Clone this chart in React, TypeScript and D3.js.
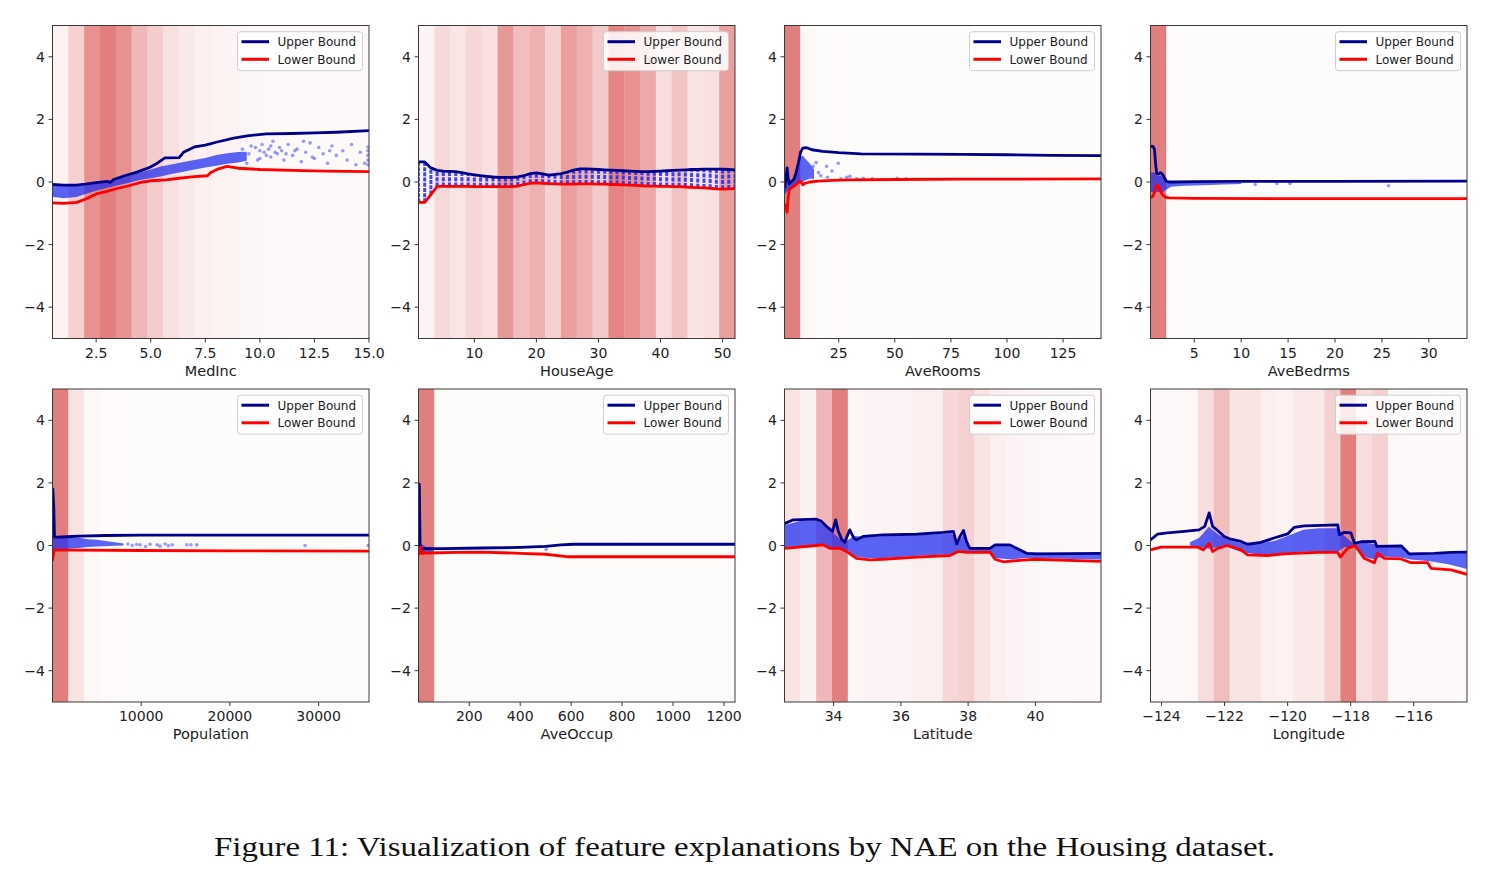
import React from "react";
import * as d3 from "d3";

type Pt = [number, number];
type Span = [number, number, number];

// ---- MedInc ----
const medIncDomain: [number, number] = [0.4999, 15.0001];
const medIncTicks = [2.5, 5, 7.5, 10, 12.5, 15];
const medIncBins = [0.08, 0.35, 0.85, 1.0, 0.85, 0.55, 0.38, 0.22, 0.15, 0.1, 0.08, 0.06, 0.05, 0.04, 0.03, 0.02, 0.02, 0.02, 0.02, 0.03];
const medIncUpper: Pt[] = [[0.5, -0.08], [1.0, -0.1], [1.6, -0.1], [2.0, -0.07], [2.5, -0.02], [3.0, 0.02], [3.15, -0.01], [3.3, 0.08], [3.8, 0.2], [4.3, 0.3], [4.9, 0.45], [5.3, 0.6], [5.65, 0.77], [6.3, 0.78], [6.5, 0.95], [7.0, 1.12], [7.5, 1.18], [8.0, 1.27], [8.8, 1.4], [9.5, 1.48], [10.3, 1.54], [11.5, 1.55], [12.5, 1.57], [13.5, 1.59], [15.0, 1.64]];
const medIncLower: Pt[] = [[0.5, -0.67], [1.0, -0.68], [1.6, -0.65], [2.0, -0.55], [2.5, -0.38], [3.0, -0.3], [3.5, -0.2], [4.0, -0.12], [4.5, -0.02], [5.0, 0.04], [5.7, 0.07], [6.3, 0.12], [7.0, 0.17], [7.6, 0.2], [7.75, 0.3], [8.1, 0.42], [8.5, 0.5], [9.0, 0.44], [10.0, 0.4], [11.5, 0.37], [13.0, 0.35], [15.0, 0.33]];
const medIncCloud: Span[] = [[0.5, -0.47, -0.05], [1.0, -0.52, -0.1], [1.6, -0.48, -0.12], [2.0, -0.38, -0.1], [2.5, -0.28, -0.05], [3.0, -0.18, 0.0], [3.5, -0.1, 0.12], [4.0, -0.02, 0.2], [4.5, 0.06, 0.3], [5.0, 0.12, 0.4], [5.5, 0.18, 0.5], [6.0, 0.26, 0.57], [6.5, 0.33, 0.64], [7.0, 0.4, 0.7], [7.5, 0.46, 0.77], [8.0, 0.52, 0.86], [8.5, 0.58, 0.92], [9.0, 0.62, 0.96], [9.4, 0.68, 0.97]];
const medIncDots: Pt[] = [[9.2, 1.05], [9.4, 0.6], [9.5, 0.9], [9.6, 1.15], [9.8, 1.1], [9.9, 0.7], [10.0, 0.75], [10.0, 1.0], [10.1, 1.2], [10.2, 0.95], [10.3, 0.85], [10.4, 1.05], [10.5, 0.8], [10.5, 1.15], [10.6, 1.3], [10.7, 0.95], [10.8, 0.9], [10.9, 1.1], [11.0, 1.0], [11.1, 0.7], [11.2, 0.9], [11.3, 1.2], [11.5, 0.85], [11.6, 1.0], [11.7, 1.05], [11.9, 0.65], [12.0, 1.3], [12.1, 0.95], [12.3, 1.25], [12.4, 0.8], [12.5, 0.75], [12.7, 1.1], [12.9, 0.9], [13.1, 0.6], [13.2, 1.0], [13.3, 1.15], [13.5, 0.85], [13.8, 1.0], [14.0, 0.7], [14.2, 1.2], [14.4, 0.55], [14.6, 0.95], [14.8, 0.6], [14.95, 0.55], [14.95, 0.7], [14.95, 0.85], [14.95, 1.0], [14.95, 1.12]];

// ---- HouseAge (one value per year of age, 1..52) ----
const houseAgeDomain: [number, number] = [1, 52];
const houseAgeTicks = [10, 20, 30, 40, 50];
const houseAgeBins = [0.06, 0.28, 0.18, 0.3, 0.22, 0.8, 0.5, 0.6, 0.35, 0.75, 0.6, 0.4, 0.95, 0.85, 0.65, 0.25, 0.45, 0.2, 0.22, 0.75];
const houseAges = d3.range(1, 53);
const houseAgeUpperVals = [0.64, 0.64, 0.45, 0.37, 0.35, 0.34, 0.33, 0.3, 0.26, 0.23, 0.2, 0.18, 0.16, 0.15, 0.15, 0.15, 0.16, 0.2, 0.27, 0.29, 0.26, 0.22, 0.24, 0.27, 0.32, 0.38, 0.42, 0.42, 0.41, 0.4, 0.39, 0.38, 0.37, 0.36, 0.35, 0.34, 0.33, 0.33, 0.34, 0.35, 0.36, 0.37, 0.38, 0.39, 0.4, 0.4, 0.41, 0.41, 0.41, 0.41, 0.4, 0.39];
const houseAgeLowerVals = [-0.65, -0.65, -0.4, -0.14, -0.14, -0.14, -0.14, -0.14, -0.14, -0.15, -0.15, -0.15, -0.15, -0.15, -0.15, -0.15, -0.13, -0.08, -0.04, -0.03, -0.04, -0.05, -0.06, -0.07, -0.07, -0.07, -0.06, -0.06, -0.06, -0.07, -0.07, -0.08, -0.08, -0.09, -0.1, -0.11, -0.12, -0.13, -0.13, -0.14, -0.14, -0.15, -0.15, -0.16, -0.17, -0.18, -0.19, -0.2, -0.22, -0.23, -0.22, -0.21];

// ---- AveRooms ----
const aveRoomsDomain: [number, number] = [0.846, 141.909];
const aveRoomsTicks = [25, 50, 75, 100, 125];
const aveRoomsBins = [1.0, 0.03, 0.01, 0.01, 0.01, 0.01, 0.01, 0.01, 0.01, 0.01, 0.01, 0.01, 0.01, 0.01, 0.01, 0.01, 0.01, 0.01, 0.01, 0.01];
const aveRoomsUpper: Pt[] = [[0.85, -0.2], [1.5, 0.1], [2.0, 0.45], [2.5, 0.1], [3.0, -0.05], [4.0, 0.02], [5.0, 0.08], [6.0, 0.3], [7.0, 0.6], [8.0, 0.95], [9.0, 1.08], [10.5, 1.1], [13, 1.03], [18, 0.98], [25, 0.94], [35, 0.9], [60, 0.89], [80, 0.88], [100, 0.87], [120, 0.85], [141.9, 0.84]];
const aveRoomsLower: Pt[] = [[0.85, -0.7], [1.5, -0.8], [2.0, -0.97], [2.5, -0.5], [3.0, -0.24], [4.0, -0.18], [5.0, -0.14], [6.0, -0.08], [7.0, -0.02], [7.5, 0.04], [8.5, -0.03], [9.0, -0.09], [10, -0.04], [12, 0.0], [16, 0.03], [22, 0.05], [30, 0.07], [50, 0.08], [80, 0.09], [141.9, 0.1]];
const aveRoomsCloud: Span[] = [[0.85, -0.4, 0.1], [2, -0.3, 0.2], [3, -0.2, 0.0], [4, -0.15, 0.05], [5, -0.1, 0.15], [6, -0.05, 0.35], [7, 0.0, 0.6], [8, 0.0, 0.8], [9, 0.0, 0.85], [10, 0.05, 0.75], [12, 0.1, 0.6], [14, 0.1, 0.4]];
const aveRoomsDots: Pt[] = [[13.6, 0.5], [15, 0.62], [16, 0.3], [17, 0.2], [19.6, 0.5], [20, 0.15], [22, 0.35], [24.8, 0.6], [26, 0.1], [28.6, 0.15], [30, 0.18], [33, 0.1], [36, 0.12], [40, 0.1], [51, 0.12], [55, 0.1]];

// ---- AveBedrms ----
const aveBedrmsDomain: [number, number] = [0.333, 34.067];
const aveBedrmsTicks = [5, 10, 15, 20, 25, 30];
const aveBedrmsBins = [1.0, 0.01, 0.01, 0.01, 0.01, 0.01, 0.01, 0.01, 0.01, 0.01, 0.01, 0.01, 0.01, 0.01, 0.01, 0.01, 0.01, 0.01, 0.01, 0.01];
const aveBedrmsUpper: Pt[] = [[0.333, 1.14], [0.6, 1.14], [0.75, 1.05], [0.9, 0.5], [1.0, 0.27], [1.2, 0.26], [1.4, 0.3], [1.6, 0.25], [1.8, 0.15], [2.0, 0.03], [2.3, 0.0], [3, 0.0], [5, 0.01], [10, 0.02], [20, 0.02], [34.07, 0.03]];
const aveBedrmsLower: Pt[] = [[0.333, -0.51], [0.6, -0.45], [0.8, -0.3], [0.95, -0.12], [1.1, -0.1], [1.3, -0.22], [1.6, -0.4], [1.9, -0.48], [2.3, -0.51], [5, -0.52], [15, -0.53], [34.07, -0.53]];
const aveBedrmsCloud: Span[] = [[0.333, -0.3, 0.3], [0.8, -0.35, 0.3], [1.0, -0.3, 0.2], [1.5, -0.35, 0.2], [2.0, -0.25, 0.0], [2.5, -0.15, -0.02], [4, -0.12, -0.02], [6, -0.1, -0.02], [8, -0.08, -0.03], [10, -0.06, -0.03]];
const aveBedrmsDots: Pt[] = [[11.5, -0.08], [13.8, -0.05], [15.2, -0.05], [25.7, -0.12]];

// ---- Population ----
const populationDomain: [number, number] = [3, 35682];
const populationTicks = [10000, 20000, 30000];
const populationBins = [1.0, 0.2, 0.04, 0.01, 0.01, 0.01, 0.01, 0.01, 0.01, 0.01, 0.01, 0.01, 0.01, 0.01, 0.01, 0.01, 0.01, 0.01, 0.01, 0.01];
const populationUpper: Pt[] = [[3, 1.5], [40, 1.8], [150, 1.2], [230, 0.27], [600, 0.27], [1500, 0.28], [3000, 0.3], [6000, 0.32], [10000, 0.33], [20000, 0.33], [35682, 0.33]];
const populationLower: Pt[] = [[3, -0.5], [100, -0.3], [230, -0.15], [3000, -0.15], [10000, -0.16], [20000, -0.17], [35682, -0.18]];
const populationCloud: Span[] = [[3, -0.3, 0.4], [200, -0.15, 0.3], [1000, -0.12, 0.27], [2000, -0.1, 0.27], [3000, -0.08, 0.25], [4000, -0.05, 0.2], [5000, -0.03, 0.18], [6000, -0.02, 0.14], [7000, -0.01, 0.1], [8000, 0.0, 0.06]];
const populationDots: Pt[] = [[8500, 0.05], [9000, 0.0], [9500, 0.03], [9870, 0.02], [10500, -0.03], [11000, 0.04], [11800, 0.02], [12130, -0.02], [12700, 0.05], [13070, -0.01], [13500, 0.02], [15140, 0.02], [15600, 0.02], [16270, 0.02], [28470, 0.0], [35600, 0.0]];

// ---- AveOccup ----
const aveOccupDomain: [number, number] = [0.692, 1243.33];
const aveOccupTicks = [200, 400, 600, 800, 1000, 1200];
const aveOccupBins = [1.0, 0.005, 0.005, 0.005, 0.005, 0.005, 0.005, 0.005, 0.005, 0.005, 0.005, 0.005, 0.005, 0.005, 0.005, 0.005, 0.005, 0.005, 0.005, 0.005];
const aveOccupUpper: Pt[] = [[0.7, 1.97], [4, 1.95], [7, 0.0], [12, -0.12], [20, -0.1], [100, -0.1], [250, -0.08], [400, -0.06], [500, -0.03], [560, 0.02], [610, 0.04], [800, 0.04], [1243.3, 0.04]];
const aveOccupLower: Pt[] = [[0.7, -0.3], [5, -0.25], [10, -0.05], [14, -0.25], [30, -0.24], [150, -0.22], [250, -0.21], [400, -0.25], [500, -0.28], [590, -0.36], [800, -0.36], [1243.3, -0.36]];
const aveOccupCloud: Span[] = [[0.7, -0.25, 0.1], [30, -0.2, -0.05], [60, -0.2, -0.08]];
const aveOccupDots: Pt[] = [[502, -0.13]];

// ---- Latitude ----
const latitudeDomain: [number, number] = [32.54, 41.95];
const latitudeTicks = [34, 36, 38, 40];
const latitudeBins = [0.2, 0.08, 0.55, 1.0, 0.05, 0.06, 0.06, 0.06, 0.1, 0.1, 0.3, 0.35, 0.2, 0.1, 0.06, 0.05, 0.04, 0.03, 0.02, 0.02];
const latitudeUpper: Pt[] = [[32.54, 0.7], [32.8, 0.82], [33.49, 0.84], [33.64, 0.77], [33.84, 0.56], [33.97, 0.45], [34.06, 0.82], [34.14, 0.45], [34.24, 0.2], [34.33, 0.1], [34.48, 0.5], [34.6, 0.24], [34.68, 0.18], [34.88, 0.29], [35.47, 0.34], [36.47, 0.36], [37.26, 0.42], [37.56, 0.45], [37.66, 0.05], [37.76, 0.29], [37.86, 0.48], [37.95, 0.13], [38.05, -0.09], [38.65, -0.09], [38.8, 0.02], [39.24, 0.02], [39.44, -0.09], [39.74, -0.25], [40.04, -0.27], [41.95, -0.25]];
const latitudeLower: Pt[] = [[32.54, -0.09], [33.49, 0.0], [33.69, 0.02], [33.89, -0.09], [34.19, -0.09], [34.38, -0.19], [34.68, -0.41], [35.08, -0.46], [35.47, -0.44], [36.47, -0.37], [37.46, -0.32], [37.71, -0.19], [37.95, -0.22], [38.65, -0.21], [38.8, -0.44], [39.04, -0.52], [39.44, -0.48], [39.94, -0.44], [41.95, -0.51]];
const latitudeCloud: Span[] = [[32.54, -0.05, 0.65], [33.0, -0.02, 0.78], [33.5, 0.02, 0.8], [33.9, -0.05, 0.5], [34.2, -0.05, 0.2], [34.4, -0.15, 0.15], [34.6, -0.35, 0.3], [35.0, -0.4, 0.27], [35.5, -0.4, 0.3], [36.5, -0.33, 0.32], [37.5, -0.28, 0.4], [37.7, -0.15, 0.1], [37.9, -0.18, 0.4], [38.05, -0.18, -0.1], [38.65, -0.18, -0.1], [38.8, -0.4, 0.0], [39.3, -0.45, 0.0], [39.7, -0.4, -0.22], [41.95, -0.45, -0.26]];
const latitudeDots: Pt[] = [];

// ---- Longitude ----
const longitudeDomain: [number, number] = [-124.35, -114.31];
const longitudeTicks = [-124, -122, -120, -118, -116];
const longitudeBins = [0.02, 0.03, 0.04, 0.25, 0.5, 0.2, 0.2, 0.1, 0.08, 0.15, 0.15, 0.35, 1.0, 0.25, 0.35, 0.03, 0.02, 0.02, 0.02, 0.02];
const longitudeUpper: Pt[] = [[-124.35, 0.18], [-124.13, 0.36], [-123.81, 0.4], [-123.28, 0.45], [-122.81, 0.5], [-122.63, 0.61], [-122.49, 1.04], [-122.38, 0.61], [-122.22, 0.48], [-122.01, 0.29], [-121.8, 0.2], [-121.48, 0.13], [-121.27, 0.04], [-120.85, 0.1], [-120.43, 0.24], [-120.0, 0.37], [-119.79, 0.58], [-119.47, 0.63], [-118.41, 0.66], [-118.36, 0.34], [-118.2, 0.42], [-117.99, 0.4], [-117.88, 0.07], [-117.67, 0.12], [-117.23, 0.13], [-117.17, -0.03], [-116.4, -0.01], [-116.14, -0.27], [-115.35, -0.25], [-114.82, -0.22], [-114.31, -0.21]];
const longitudeLower: Pt[] = [[-124.35, -0.14], [-124.02, -0.05], [-122.86, -0.05], [-122.67, -0.14], [-122.49, 0.07], [-122.38, -0.19], [-122.22, -0.09], [-121.91, 0.0], [-121.48, -0.14], [-121.27, -0.3], [-120.64, -0.32], [-120.11, -0.27], [-119.05, -0.22], [-118.41, -0.22], [-118.33, -0.37], [-118.1, -0.09], [-117.86, 0.0], [-117.57, -0.41], [-117.25, -0.55], [-117.15, -0.25], [-116.93, -0.41], [-116.4, -0.43], [-116.09, -0.55], [-115.56, -0.55], [-115.45, -0.73], [-114.82, -0.78], [-114.31, -0.92]];
const longitudeCloud: Span[] = [[-123.1, 0.0, 0.1], [-122.8, -0.05, 0.25], [-122.5, -0.1, 0.6], [-122.2, -0.05, 0.35], [-121.9, -0.05, 0.2], [-121.5, -0.2, 0.08], [-121.0, -0.28, 0.05], [-120.4, -0.28, 0.15], [-120.0, -0.25, 0.3], [-119.5, -0.2, 0.5], [-119.0, -0.2, 0.55], [-118.4, -0.2, 0.55], [-118.2, -0.05, 0.3], [-117.9, -0.05, 0.05], [-117.6, -0.35, 0.1], [-117.25, -0.45, 0.05], [-117.0, -0.35, -0.05], [-116.4, -0.38, -0.05], [-116.1, -0.45, -0.3], [-115.5, -0.5, -0.3], [-114.9, -0.6, -0.25], [-114.31, -0.75, -0.25]];
const longitudeDots: Pt[] = [];

const yTicks = [-4, -2, 0, 2, 4];
const caption = "Figure 11: Visualization of feature explanations by NAE on the Housing dataset.";

interface PanelSpec {
  label: string;
  domain: [number, number];
  ticks: number[];
  fmt: (v: number) => string;
  bins: number[];
  upper: Pt[];
  lower: Pt[];
  cloud: Span[];
  dots: Pt[];
  columns?: Span[];
}

const intFmt = d3.format("d");
const panels: PanelSpec[] = [
  { label: "MedInc", domain: medIncDomain, ticks: medIncTicks, fmt: d3.format(".1f"), bins: medIncBins, upper: medIncUpper, lower: medIncLower, cloud: medIncCloud, dots: medIncDots },
  {
    label: "HouseAge", domain: houseAgeDomain, ticks: houseAgeTicks, fmt: intFmt, bins: houseAgeBins,
    upper: houseAges.map((a, i) => [a, houseAgeUpperVals[i]] as Pt),
    lower: houseAges.map((a, i) => [a, houseAgeLowerVals[i]] as Pt),
    cloud: [], dots: [],
    columns: houseAges.map((a, i) => [a, houseAgeLowerVals[i], houseAgeUpperVals[i]] as Span),
  },
  { label: "AveRooms", domain: aveRoomsDomain, ticks: aveRoomsTicks, fmt: intFmt, bins: aveRoomsBins, upper: aveRoomsUpper, lower: aveRoomsLower, cloud: aveRoomsCloud, dots: aveRoomsDots },
  { label: "AveBedrms", domain: aveBedrmsDomain, ticks: aveBedrmsTicks, fmt: intFmt, bins: aveBedrmsBins, upper: aveBedrmsUpper, lower: aveBedrmsLower, cloud: aveBedrmsCloud, dots: aveBedrmsDots },
  { label: "Population", domain: populationDomain, ticks: populationTicks, fmt: intFmt, bins: populationBins, upper: populationUpper, lower: populationLower, cloud: populationCloud, dots: populationDots },
  { label: "AveOccup", domain: aveOccupDomain, ticks: aveOccupTicks, fmt: intFmt, bins: aveOccupBins, upper: aveOccupUpper, lower: aveOccupLower, cloud: aveOccupCloud, dots: aveOccupDots },
  { label: "Latitude", domain: latitudeDomain, ticks: latitudeTicks, fmt: intFmt, bins: latitudeBins, upper: latitudeUpper, lower: latitudeLower, cloud: latitudeCloud, dots: latitudeDots },
  { label: "Longitude", domain: longitudeDomain, ticks: longitudeTicks, fmt: intFmt, bins: longitudeBins, upper: longitudeUpper, lower: longitudeLower, cloud: longitudeCloud, dots: longitudeDots },
];

const W = 1488;
const H = 877;
const colX = [52.5, 418.5, 784.5, 1150.5];
const rowY = [25.5, 389];
const PW = 316.5;
const PH = 313;
const FONT = "DejaVu Sans, sans-serif";
const UPPER = "#00008b";
const LOWER = "#ff0000";
const AXIS = "#3a3a3a";
const CLOUD = "#1a2af2";

const shade = d3.interpolateRgb("#fefcfc", "#e37e7e");
const minus = (s: string) => s.replace("-", "\u2212");

function Panel({ spec, idx }: { spec: PanelSpec; idx: number }) {
  const x0 = colX[idx % 4];
  const y0 = rowY[Math.floor(idx / 4)];
  const x = d3.scaleLinear().domain(spec.domain).range([0, PW]);
  const y = d3.scaleLinear().domain([-5, 5]).range([PH, 0]);
  const binW = (spec.domain[1] - spec.domain[0]) / spec.bins.length;

  const line = d3.line<Pt>().x((d) => x(d[0])).y((d) => y(d[1]));
  const area = d3
    .area<Span>()
    .x((d) => x(d[0]))
    .y0((d) => y(d[1]))
    .y1((d) => y(d[2]));
  const clipId = `clip-${idx}`;

  return (
    <g transform={`translate(${x0},${y0})`}>
      <defs>
        <clipPath id={clipId}>
          <rect x={0} y={0} width={PW} height={PH} />
        </clipPath>
      </defs>
      <g clipPath={`url(#${clipId})`}>
        {/* density shading */}
        {spec.bins.map((t, i) => {
          const a = x(spec.domain[0] + i * binW);
          const b = x(spec.domain[0] + (i + 1) * binW);
          return <rect key={i} x={a} y={0} width={b - a + 0.3} height={PH} fill={shade(t)} />;
        })}
        {/* sample cloud */}
        {spec.cloud.length > 0 && <path d={area(spec.cloud) ?? ""} fill={CLOUD} fillOpacity={0.72} />}
        {spec.dots.map((d, i) => (
          <circle key={i} cx={x(d[0])} cy={y(d[1])} r={1.8} fill={CLOUD} fillOpacity={0.45} />
        ))}
        {spec.columns?.map((c, i) => (
          <line
            key={i}
            x1={x(c[0])}
            x2={x(c[0])}
            y1={y(c[1])}
            y2={y(c[2])}
            stroke={CLOUD}
            strokeOpacity={0.85}
            strokeWidth={3}
            strokeDasharray="4 1.2"
          />
        ))}
        <path d={line(spec.upper) ?? ""} fill="none" stroke={UPPER} strokeWidth={2.8} strokeLinejoin="round" />
        <path d={line(spec.lower) ?? ""} fill="none" stroke={LOWER} strokeWidth={2.8} strokeLinejoin="round" />
      </g>
      <rect x={0} y={0} width={PW} height={PH} fill="none" stroke={AXIS} strokeWidth={1} />

      {/* y axis */}
      {yTicks.map((t) => (
        <g key={t} transform={`translate(0,${y(t)})`}>
          <line x1={-4} x2={0} stroke={AXIS} strokeWidth={1} />
          <text x={-7.5} dy="0.36em" textAnchor="end" fontSize={14} fontFamily={FONT} fill="#222">
            {minus(String(t))}
          </text>
        </g>
      ))}

      {/* x axis */}
      {spec.ticks.map((t) => (
        <g key={t} transform={`translate(${x(t)},${PH})`}>
          <line y1={0} y2={4} stroke={AXIS} strokeWidth={1} />
          <text y={19} textAnchor="middle" fontSize={14} fontFamily={FONT} fill="#222">
            {minus(spec.fmt(t))}
          </text>
        </g>
      ))}
      <text x={PW / 2} y={PH + 37} textAnchor="middle" fontSize={14.5} fontFamily={FONT} fill="#222">
        {spec.label}
      </text>

      {/* legend */}
      <g transform={`translate(${PW - 131.5},6.2)`}>
        <rect width={125} height={39} rx={3} fill="#ffffff" fillOpacity={0.85} stroke="#cfcfcf" strokeWidth={1} />
        {[
          { name: "Upper Bound", color: UPPER, cy: 10 },
          { name: "Lower Bound", color: LOWER, cy: 27.6 },
        ].map((e) => (
          <g key={e.name}>
            <line x1={4} x2={31.5} y1={e.cy} y2={e.cy} stroke={e.color} strokeWidth={3} />
            <text x={40} y={e.cy} dy="0.36em" fontSize={12} fontFamily={FONT} fill="#222">
              {e.name}
            </text>
          </g>
        ))}
      </g>
    </g>
  );
}

export default function App() {
  return (
    <svg
      width={W}
      height={H}
      viewBox={`0 0 ${W} ${H}`}
      style={{ position: "absolute", left: 0, top: 0, background: "#ffffff" }}
    >
      <rect width={W} height={H} fill="#ffffff" />
      {panels.map((p, i) => (
        <Panel key={p.label} spec={p} idx={i} />
      ))}
      <text
        x={214}
        y={856}
        fontSize={28}
        fontFamily="Liberation Serif, serif"
        fill="#111"
        textLength={1061}
        lengthAdjust="spacingAndGlyphs"
      >
        {caption}
      </text>
    </svg>
  );
}
